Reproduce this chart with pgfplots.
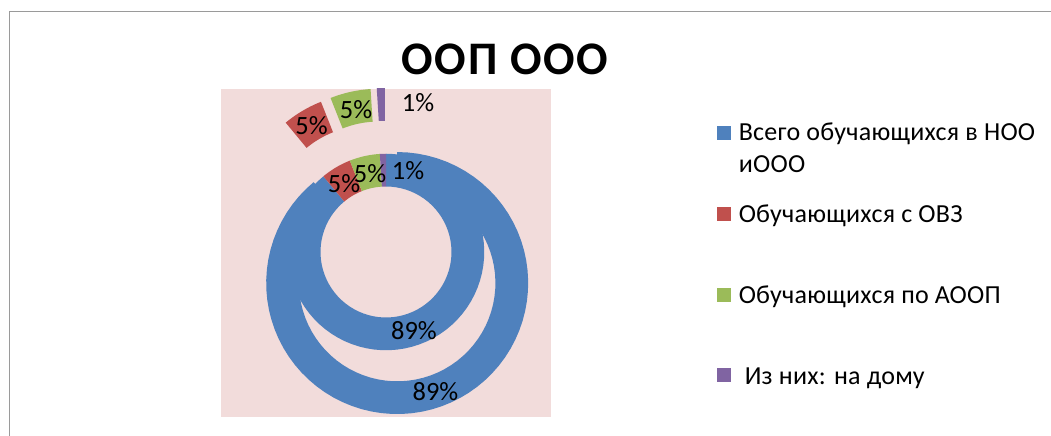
\documentclass[border=0pt]{standalone}
\usepackage{pgfplots}
\pgfplotsset{compat=1.18}
\usepackage{pgfplotstable}
\usepackage{fontspec}
\setmainfont{Carlito}
\newfontfamily\titlefont[LetterSpace=4]{Carlito}
\newfontfamily\legendfont[LetterSpace=1]{Carlito}
\definecolor{c0}{HTML}{4F81BD}
\definecolor{c1}{HTML}{C0504D}
\definecolor{c2}{HTML}{9BBB59}
\definecolor{c3}{HTML}{8064A2}
\definecolor{plotbg}{HTML}{F2DCDB}
\definecolor{framegray}{HTML}{9A9A9A}

% inner ring
\pgfplotstableread{
slice value
0 89
1 5
2 5
3 1
}\innerdata
% outer ring (exploded)
\pgfplotstableread{
slice value
0 89
1 5
2 5
3 1
}\outerdata

\def\cx{386}\def\cy{184}
\newcommand\computering[3]{% #1 table, #2 prefix, #3 explosion (px)
  \pgfplotstablegetrowsof{#1}%
  \pgfmathtruncatemacro\nr{\pgfplotsretval-1}%
  \xdef\ringtotal{0}%
  \foreach \i in {0,...,\nr}{%
    \pgfplotstablegetelem{\i}{value}\of{#1}%
    \pgfmathparse{\ringtotal+\pgfplotsretval}%
    \xdef\ringtotal{\pgfmathresult}%
  }%
  \xdef\ringcum{0}%
  \foreach \i in {0,...,\nr}{%
    \pgfplotstablegetelem{\i}{value}\of{#1}%
    \pgfmathsetmacro\angS{90-(\ringcum/\ringtotal)*360}%
    \pgfmathsetmacro\newcum{\ringcum+\pgfplotsretval}%
    \pgfmathsetmacro\angE{90-(\newcum/\ringtotal)*360}%
    \pgfmathsetmacro\ctrX{\cx+#3*cos((\angS+\angE)/2)}%
    \pgfmathsetmacro\ctrY{\cy+#3*sin((\angS+\angE)/2)}%
    \expandafter\xdef\csname #2S\i\endcsname{\angS}%
    \expandafter\xdef\csname #2E\i\endcsname{\angE}%
    \expandafter\xdef\csname #2X\i\endcsname{\ctrX}%
    \expandafter\xdef\csname #2Y\i\endcsname{\ctrY}%
    \xdef\ringcum{\newcum}%
  }%
}
\computering{\innerdata}{in}{0}
\computering{\outerdata}{out}{33}

\newcommand\ringsector[7]{% colour, cx, cy, rin, rout, start, end
  \fill[#1] (axis cs:{#2+#5*cos(#6)},{#3+#5*sin(#6)})
    \foreach \k in {1,...,72}{ -- (axis cs:{#2+#5*cos((#6)+((#7)-(#6))*\k/72)},{#3+#5*sin((#6)+((#7)-(#6))*\k/72)}) }
    \foreach \k in {0,...,72}{ -- (axis cs:{#2+#4*cos((#7)+((#6)-(#7))*\k/72)},{#3+#4*sin((#7)+((#6)-(#7))*\k/72)}) }
    -- cycle;
}

\begin{document}
\begin{tikzpicture}
\path[use as bounding box] (0,0) rectangle (788.25pt,327pt);
\begin{axis}[
  at={(0,0)}, anchor=origin,
  x=0.75pt, y=0.75pt,
  xmin=0, xmax=1051, ymin=0, ymax=436,
  hide axis, clip=false,
]
% frame
\draw[framegray, line width=1.1pt] (axis cs:9.5,0) -- (axis cs:9.5,424.5) -- (axis cs:1060,424.5);
% plot area
\fill[plotbg] (axis cs:221,19) rectangle (axis cs:551,347);
% outer ring (exploded)
\pgfplotsinvokeforeach{0,...,3}{%
  \ringsector{c#1}{\csname outX#1\endcsname}{\csname outY#1\endcsname}{98.25}{131}{\csname outS#1\endcsname}{\csname outE#1\endcsname}
}
% inner ring
\pgfplotsinvokeforeach{0,...,3}{%
  \ringsector{c#1}{\csname inX#1\endcsname}{\csname inY#1\endcsname}{65.5}{98.25}{\csname inS#1\endcsname}{\csname inE#1\endcsname}
}
% data labels
\begin{scope}[every node/.style={font=\fontsize{19.8pt}{23pt}\selectfont, anchor=base, inner sep=0pt}]
\node at (axis cs:414,96.7) {89\%};
\node at (axis cs:435.5,35) {89\%};
\node at (axis cs:344,243) {5\%};
\node at (axis cs:370,253) {5\%};
\node at (axis cs:408,256) {1\%};
\node at (axis cs:311.5,301) {5\%};
\node at (axis cs:356,317) {5\%};
\node at (axis cs:418,324) {1\%};
\end{scope}
% title
\node[font=\titlefont\fontsize{35pt}{40pt}\selectfont\bfseries, anchor=base, inner sep=0pt] at (axis cs:505,361.5) {ООП ООО};
% legend
\fill[c0] (axis cs:717,296) rectangle (axis cs:731,310);
\fill[c1] (axis cs:717,215.3) rectangle (axis cs:731,229.3);
\fill[c2] (axis cs:717,134) rectangle (axis cs:731,148);
\fill[c3] (axis cs:717,54) rectangle (axis cs:731,68);
\begin{scope}[every node/.style={font=\legendfont\fontsize{19.5pt}{23pt}\selectfont, anchor=base west, inner sep=0pt}]
\node at (axis cs:738.5,295.8) {Всего обучающихся в НОО};
\node at (axis cs:738.5,263) {иООО};
\node at (axis cs:738.5,213) {Обучающихся с ОВЗ};
\node at (axis cs:738.5,132) {Обучающихся по АООП};
\node at (axis cs:744.5,51) {Из них: на дому};
\end{scope}
\end{axis}
\end{tikzpicture}
\end{document}
